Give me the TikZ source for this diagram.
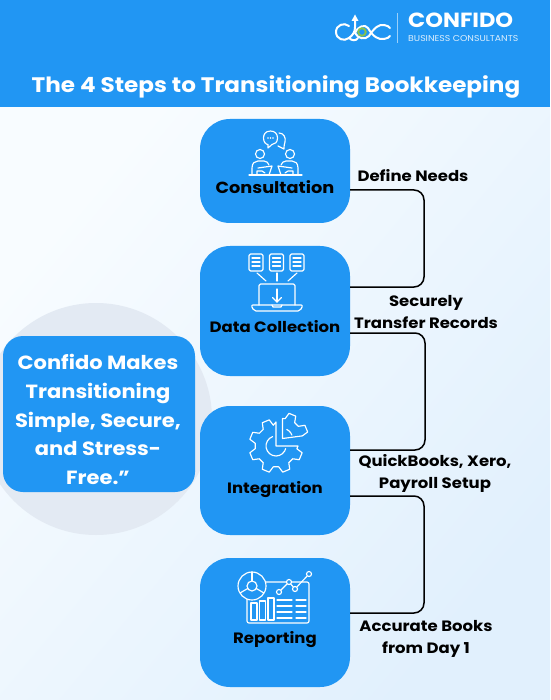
\documentclass[tikz,border=0pt]{standalone}
\usepackage{fontspec}
\setmainfont{Poppins}[FakeStretch=1.1]
\definecolor{stepblue}{HTML}{2196F3}
\definecolor{haloblue}{HTML}{E3EAF3}
\definecolor{paleA}{HTML}{F8FCFF}
\definecolor{paleB}{HTML}{E1F0FD}
\definecolor{ringgreen}{HTML}{8BC34A}
\begin{document}
\begin{tikzpicture}[
    x=1pt, y=-1pt,
    stepbox/.style={fill=stepblue, rounded corners=30pt, minimum width=150pt, inner sep=0pt, outer sep=0pt},
    steplabel/.style={font=\bfseries\fontsize{15}{18}\selectfont, text=black, inner sep=0pt, anchor=base},
    note/.style={font=\bfseries\fontsize{15}{22}\selectfont, text=black, align=center, inner sep=0pt},
    link/.style={draw=black, line width=1.5pt, rounded corners=10pt},
    icon/.style={draw=white, line width=1.15pt, line join=round, line cap=round},
    logo/.style={draw=white, line width=2pt, line cap=round}
]
    \useasboundingbox (0,0) rectangle (550,700);

    % Page background and header band
    \shade[left color=paleA, right color=paleB, shading angle=50] (0,107) rectangle (550,700);
    \fill[stepblue] (0,0) rectangle (550,107);
    \node[font=\bfseries\fontsize{21}{26}\selectfont, text=white, inner sep=0pt, anchor=base] (title) at (276,93) {The 4 Steps to Transitioning Bookkeeping};

    % Brand block
    \draw[white!55!stepblue, line width=0.8pt] (397,13) -- (397,43);
    \node[font=\bfseries\fontsize{20.5}{20}\selectfont, text=white, anchor=base west, inner sep=0pt] (brand) at (408,28) {CONFIDO};
    \node[font=\fontsize{8.5}{9}\selectfont, text=white!85!stepblue, anchor=base west, inner sep=0pt] (brandsub) at (408,41.7) {BUSINESS CONSULTANTS};
    \draw[logo] (349,26) .. controls (344,22) and (336,25) .. (336,32) .. controls (336,39) and (344,42) .. (349,38) .. controls (353,35) and (355,32) .. (355,27) -- (355,19);
    \draw[logo] (355,33) .. controls (358,39) and (365,40) .. (369,36) .. controls (374,28) and (379,24) .. (384,25) .. controls (387,25) and (389,27) .. (390,28);
    \draw[logo] (349,38) .. controls (352,41) and (356,41) .. (358,38);
    \draw[logo] (368,28) .. controls (373,37) and (379,40) .. (384,39) .. controls (387,39) and (389,37) .. (390,36);
    \draw[logo] (355,33) .. controls (358,26) and (365,24) .. (368,28);
    \fill[white] (355,14.5) -- (358.5,21) -- (351.5,21) -- cycle;
    \draw[draw=ringgreen, line width=1.8pt] (362,32) circle (3.8pt);

    % Backdrop and quote
    \node[circle, fill=haloblue, minimum size=232pt, inner sep=0pt] (halo) at (96,419) {};
    \node[fill=stepblue, rounded corners=20pt, minimum width=192pt, minimum height=156pt, inner sep=0pt] (quote) at (99,414) {};
    \node[font=\bfseries\fontsize{19.1}{28.7}\selectfont, text=white, align=center, inner sep=0pt] (quotetext) at (98,419.5) {Confido Makes\\Transitioning\\Simple, Secure,\\and Stress-\\Free.”};

    % Four steps
    \node[stepbox, minimum height=104pt] (consultation) at (275,171) {};
    \node[stepbox, minimum height=130pt] (collection) at (275,311) {};
    \node[stepbox, minimum height=129pt] (integration) at (275,470.5) {};
    \node[stepbox, minimum height=129pt] (reporting) at (275,622.5) {};
    \node[steplabel, font=\bfseries\fontsize{16.1}{18}\selectfont] (consultationlabel) at (275,193.5) {Consultation};
    \node[steplabel] (collectionlabel) at (275,332) {Data Collection};
    \node[steplabel] (integrationlabel) at (275,493) {Integration};
    \node[steplabel] (reportinglabel) at (275,643) {Reporting};

    % Connectors between steps
    \coordinate (turnA) at (424,238);
    \coordinate (turnB) at (425,390);
    \coordinate (turnC) at (424,555);
    \draw[link] ([yshift=-19pt]consultation.east) -| (turnA) |- ([yshift=24pt]collection.east);
    \draw[link] ([yshift=-22pt]collection.east) -| (turnB) |- ([yshift=20.5pt]integration.east);
    \draw[link] ([yshift=-25.5pt]integration.east) -| (turnC) |- ([yshift=9.5pt]reporting.east);

    % Connector labels
    \node[note] (needs) at (413,176) {Define Needs};
    \node[note] (records) at (426,312) {Securely\\Transfer Records};
    \node[note] (setup) at (435,473.5) {QuickBooks, Xero,\\Payroll Setup};
    \node[note] (books) at (426,639) {Accurate Books\\from Day 1};

    % Consultation icon
    \draw[icon] (279,133) .. controls (284,133) and (286,138) .. (285,142) .. controls (284.5,144) and (284,145) .. (284,149) -- (278,146);
    \filldraw[icon, fill=stepblue] (270.5,131) .. controls (265,131) and (263.5,135) .. (263.5,138) .. controls (263.5,142) and (266,144.5) .. (268,144.5) -- (268,148) -- (272,144.5) .. controls (275,144.5) and (277.5,142) .. (277.5,138) .. controls (277.5,134) and (275,131) .. (270.5,131);
    \foreach \i in {268,270.5,273} \fill[white] (\i,138) circle (0.8pt);
    \draw[icon] (249,175) -- (302,175);
    \foreach \s in {1,-1} {
        \begin{scope}[shift={(275,0)}, xscale=\s]
            \draw[icon] (-15,154) circle (4.5pt);
            \draw[icon] (-23,175) -- (-23,168) .. controls (-23,163) and (-20,161) .. (-17,161) -- (-11,161) .. controls (-8,161) and (-7,163) .. (-6,165);
            \draw[icon] (-17,168) -- (-3,166) -- (-6,175);
            \draw[icon] (-18,175) -- (-18,171) -- (-13,171) -- (-10,173);
        \end{scope}
    }

    % Data collection icon
    \foreach \xa in {249,269.5,290} {
        \draw[icon, rounded corners=1.5pt] (\xa,254) rectangle ++(14,17);
        \foreach \ya in {258,262,266} \draw[icon] (\xa+3,\ya) -- (\xa+11,\ya);
    }
    \draw[icon] (257,273) -- (266,281);
    \draw[icon] (277,273) -- (277,281);
    \draw[icon] (297,273) -- (288,281);
    \draw[icon, rounded corners=1.5pt] (259,305) -- (259,284) -- (295,284) -- (295,305);
    \draw[icon, rounded corners=2pt] (251,305) -- (303,305) -- (300,311) -- (254,311) -- cycle;
    \draw[icon] (272,305) -- (273,307) -- (281,307) -- (282,305);
    \draw[icon] (277,289) -- (277,302);
    \draw[icon] (272.5,297.5) -- (277,302) -- (281.5,297.5);

    % Integration icon
    \begin{scope}[shift={(276,446)}]
        \draw[icon] (0,-24) -- (0,0) -- (22,0)
            \foreach \a in {22.5,67.5,112.5,157.5,202.5,247.5} {
                -- ({21*cos(\a-15)},{21*sin(\a-15)}) -- ({27*cos(\a-8)},{27*sin(\a-8)}) -- ({27*cos(\a+8)},{27*sin(\a+8)}) -- ({21*cos(\a+15)},{21*sin(\a+15)})
            } -- (0,-24);
        \draw[icon] ({10*cos(15)},{10*sin(15)})
            \foreach \a in {30,50,...,260} { -- ({10*cos(\a)},{10*sin(\a)}) };
    \end{scope}
    \begin{scope}[shift={(282.5,438.5)}]
        \draw[icon] (0,0) -- (0,-20)
            \foreach \a in {292.5,337.5} {
                -- ({20*cos(\a-15)},{20*sin(\a-15)}) -- ({26*cos(\a-8)},{26*sin(\a-8)}) -- ({26*cos(\a+8)},{26*sin(\a+8)}) -- ({20*cos(\a+15)},{20*sin(\a+15)})
            } -- cycle;
        \draw[icon] ({10*cos(295)},{10*sin(295)})
            \foreach \a in {310,325,340} { -- ({10*cos(\a)},{10*sin(\a)}) };
    \end{scope}

    % Reporting icon
    \draw[icon, rounded corners=2pt] (247,582) rectangle (309,623);
    \filldraw[icon, fill=stepblue] (252,586) circle (14pt);
    \draw[icon] (252,586) circle (5pt);
    \draw[icon] (252,581) -- (252,572);
    \draw[icon] (247.7,588.5) -- (240,593);
    \draw[icon] (256.3,588.5) -- (264,593);
    \draw[icon] (251,603) rectangle (257,620);
    \draw[icon] (259.5,601) rectangle (265.5,620);
    \draw[icon] (268,598) rectangle (274,620);
    \foreach \yb in {600,606,612,618} {
        \draw[icon] (277,\yb) -- (292,\yb);
        \draw[icon] (296,\yb) -- (306,\yb);
    }
    \draw[icon] (279,592) -- (289,582) -- (295,589) -- (309,574);
    \foreach \xb/\yb in {279/592,289/582,295/589,309/574} \filldraw[icon, fill=stepblue] (\xb,\yb) circle (2.5pt);
\end{tikzpicture}
\end{document}
